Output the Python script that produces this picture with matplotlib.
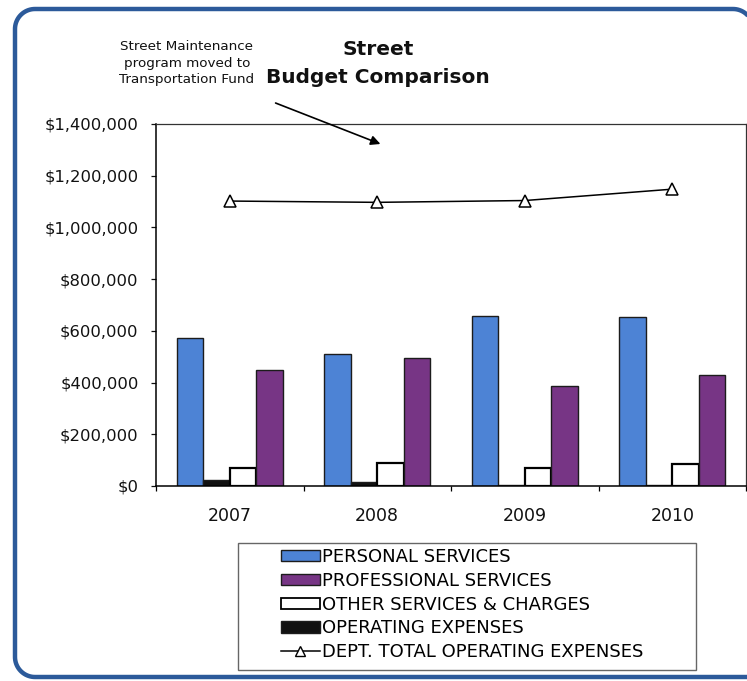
import numpy as np
import matplotlib
matplotlib.use("Agg")
import matplotlib.pyplot as plt
from matplotlib.patches import Patch, Rectangle
from matplotlib.lines import Line2D

# ---- data ----
years = ["2007", "2008", "2009", "2010"]
personal_services = [572000, 510000, 657000, 654000]
operating_expenses = [25000, 15000, 3000, 3000]
other_services = [70000, 89000, 70000, 85000]
professional_services = [449000, 495000, 387000, 429000]
dept_total = [1102000, 1097000, 1104000, 1148000]
y_ticks = [0, 200000, 400000, 600000, 800000, 1000000, 1200000, 1400000]

W, H = 747, 681
fig = plt.figure(figsize=(W / 100, H / 100), dpi=100)
fig.patch.set_facecolor("white")

def fx(px):
    return px / W

def fy(py):
    return 1 - py / H

# background layer in pixel units for the rounded panel border
bg = fig.add_axes([0, 0, 1, 1], zorder=-5)
bg.set_xlim(0, W)
bg.set_ylim(H, 0)
bg.axis("off")

def corner(cx, cy, r, a0, a1, n=20):
    t = np.radians(np.linspace(a0, a1, n))
    return cx + r * np.cos(t), cy + r * np.sin(t)

r = 20
left, top, right, bottom = 15, 9, 753, 677
segs_x, segs_y = [W + 20], [bottom]
cx, cy = corner(left + r, bottom - r, r, 90, 180)
segs_x += list(cx); segs_y += list(cy)
cx, cy = corner(left + r, top + r, r, 180, 270)
segs_x += list(cx); segs_y += list(cy)
cx, cy = corner(right - r, top + r, r, 270, 360)
segs_x += list(cx); segs_y += list(cy)
segs_x += [right]; segs_y += [H + 20]
bg.plot(segs_x, segs_y, color="#2c5a9a", linewidth=3.2, solid_capstyle="butt",
        clip_on=False)

ax = fig.add_axes([fx(156), fy(486), fx(746) - fx(156), fy(124) - fy(486)])
ax.set_facecolor("white")

x = np.arange(len(years))
w = 0.18
blue = "#4d83d5"
purple = "#773585"
edge = "#1c1c1c"

ax.bar(x - 1.5 * w, personal_services, w, color=blue, edgecolor=edge, linewidth=1.0, zorder=2)
ax.bar(x - 0.5 * w, operating_expenses, w, color="#111111", edgecolor=edge, linewidth=1.0, zorder=2)
ax.bar(x + 0.5 * w, other_services, w, color="white", edgecolor="black", linewidth=1.6, zorder=2)
ax.bar(x + 1.5 * w, professional_services, w, color=purple, edgecolor=edge, linewidth=1.0, zorder=2)
ax.plot(x, dept_total, color="black", linewidth=1.1, marker="^", markersize=8,
        markerfacecolor="white", markeredgecolor="black", markeredgewidth=1.1, zorder=3)

ax.set_xlim(-0.5, len(years) - 0.5)
ax.set_ylim(y_ticks[0], y_ticks[-1])
ax.set_yticks(y_ticks)
ax.set_yticklabels(["${:,.0f}".format(v) for v in y_ticks])
ax.set_xticks(x)
ax.set_xticklabels(years)
ax.set_xticks(np.arange(len(years) + 1) - 0.5, minor=True)

ax.tick_params(axis="x", which="major", length=0, pad=15, labelsize=12.5, colors="#111111")
ax.tick_params(axis="x", which="minor", length=3.6, width=0.9, direction="out")
ax.tick_params(axis="y", which="major", length=3.6, width=0.9, direction="out",
               pad=9, labelsize=11.8, colors="#111111")
for side in ["left", "bottom"]:
    ax.spines[side].set_color("black")
    ax.spines[side].set_linewidth(1.1)
for side in ["top", "right"]:
    ax.spines[side].set_color("#333333")
    ax.spines[side].set_linewidth(0.9)

# titles and note
fig.text(fx(378), fy(55), "Street", ha="center", va="baseline",
         fontsize=14.5, fontweight="bold", color="#111111")
fig.text(fx(378), fy(83), "Budget Comparison", ha="center", va="baseline",
         fontsize=14.5, fontweight="bold", color="#111111")
fig.text(fx(187), fy(63), "Street Maintenance\nprogram moved to\nTransportation Fund",
         ha="center", va="center", fontsize=9.7, linespacing=1.3, color="#111111")
ax.annotate("", xy=(fx(383), fy(145)), xytext=(fx(273), fy(102)),
            xycoords="figure fraction", textcoords="figure fraction",
            arrowprops=dict(arrowstyle="-|>", color="black", lw=1.2, mutation_scale=14))

# legend with its own box
box = Rectangle((fx(238), fy(670)), fx(696) - fx(238), fy(543) - fy(670),
                transform=fig.transFigure, facecolor="white", edgecolor="#666666",
                linewidth=1.0, zorder=1)
fig.patches.append(box)
handles = [
    Patch(facecolor=blue, edgecolor=edge, linewidth=1.0),
    Patch(facecolor=purple, edgecolor=edge, linewidth=1.0),
    Patch(facecolor="white", edgecolor="black", linewidth=1.3),
    Patch(facecolor="#111111", edgecolor=edge, linewidth=1.0),
    Line2D([0], [0], color="black", linewidth=1.1, marker="^", markersize=7,
           markerfacecolor="white", markeredgecolor="black"),
]
labels = ["PERSONAL SERVICES", "PROFESSIONAL SERVICES", "OTHER SERVICES & CHARGES",
          "OPERATING EXPENSES", "DEPT. TOTAL OPERATING EXPENSES"]
fig.legend(handles, labels, loc="upper left", bbox_to_anchor=(fx(277), fy(544)),
           frameon=False, fontsize=13, handlelength=2.2, handleheight=0.58,
           handletextpad=0.12, labelspacing=0.33, borderpad=0.2, borderaxespad=0)

fig.savefig("out.png", dpi=100, facecolor="white")
